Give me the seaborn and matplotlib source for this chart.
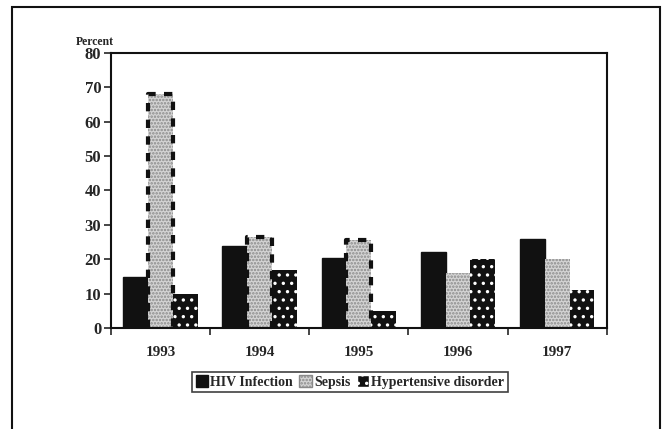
import matplotlib
matplotlib.use("Agg")
import matplotlib.pyplot as plt
import matplotlib.patches as mpatches
import seaborn as sns
import pandas as pd

years = ["1993", "1994", "1995", "1996", "1997"]
hiv = [15, 24, 20.5, 22, 26]
sepsis = [68, 26.5, 25.5, 16, 20]
hypertensive = [10, 17, 5, 20, 11]
series_names = ["HIV Infection", "Sepsis", "Hypertensive disorder"]

df = pd.DataFrame({
    "year": years * 3,
    "cause": [n for n in series_names for _ in years],
    "percent": hiv + sepsis + hypertensive,
})

sns.set_style("white")
plt.rcParams["font.family"] = ["Liberation Serif", "DejaVu Serif"]
plt.rcParams["font.weight"] = "bold"
plt.rcParams["hatch.linewidth"] = 1.2

fig = plt.figure(figsize=(6.64, 4.29), dpi=100)
ax = fig.add_axes([0.167, 0.235, 0.747, 0.642])

sns.barplot(data=df, x="year", y="percent", hue="cause", order=years,
            hue_order=series_names, palette=["#111111", "#d4d4d4", "#111111"],
            width=0.75, saturation=1, legend=False, ax=ax)

n = len(years)
for i, p in enumerate(ax.patches[:3 * n]):
    s = i // n
    if s == 0:
        p.set_edgecolor("#111111")
        p.set_linewidth(1)
    elif s == 1:
        p.set_hatch(".....")
        p.set_edgecolor("#8a8a8a")
        p.set_linewidth(0)
    else:
        p.set_hatch("..")
        p.set_edgecolor("white")
        p.set_linewidth(0)

# dashed dark outline on the first three sepsis bars
for p in ax.patches[n:n + 3]:
    x0, w, h = p.get_x(), p.get_width(), p.get_height()
    ax.plot([x0, x0, x0 + w, x0 + w], [0, h, h, 0], color="#111111",
            lw=3, ls=(0, (2, 2)), zorder=3)

ax.set_ylim(0, 80)
ax.set_xlim(-0.5, n - 0.5)
ax.set_yticks(range(0, 81, 10))
ax.set_xlabel("")
ax.set_ylabel("")
ax.tick_params(axis="y", labelsize=12, length=5, width=1.2, direction="out", left=True, pad=2)
ax.tick_params(axis="x", which="major", labelsize=11, length=0, pad=13)
ax.set_xticks([i + 0.5 for i in range(-1, n)], minor=True)
ax.tick_params(axis="x", which="minor", length=5, width=1.2, direction="out", bottom=True)
for lab in ax.get_xticklabels() + ax.get_yticklabels():
    lab.set_fontweight("bold")
for sp in ax.spines.values():
    sp.set_visible(True)
    sp.set_color("#111111")
    sp.set_linewidth(1.5)

ax.text(0.005, 1.018, "Percent", transform=ax.transAxes, ha="right", va="bottom",
        fontsize=8.5, fontweight="bold")

handles = [
    mpatches.Patch(facecolor="#111111", edgecolor="#111111"),
    mpatches.Patch(facecolor="#d4d4d4", edgecolor="#8a8a8a", hatch="....."),
    mpatches.Patch(facecolor="#111111", edgecolor="white", hatch=".."),
]
leg = fig.legend(handles, series_names, loc="center", bbox_to_anchor=(0.527, 0.11),
                 ncol=3, frameon=True, fancybox=False, fontsize=10,
                 handlelength=0.9, handleheight=0.9, handletextpad=0.15,
                 columnspacing=0.45, borderpad=0.25, edgecolor="#111111")
leg.get_frame().set_linewidth(1.2)
for t in leg.get_texts():
    t.set_fontweight("bold")

frame = mpatches.Rectangle((12 / 664, -0.05), (660 - 12) / 664, 1.05 - 7 / 429,
                           transform=fig.transFigure, fill=False,
                           edgecolor="#111111", lw=1.5, clip_on=False)
fig.add_artist(frame)

fig.savefig("out.png", dpi=100)
